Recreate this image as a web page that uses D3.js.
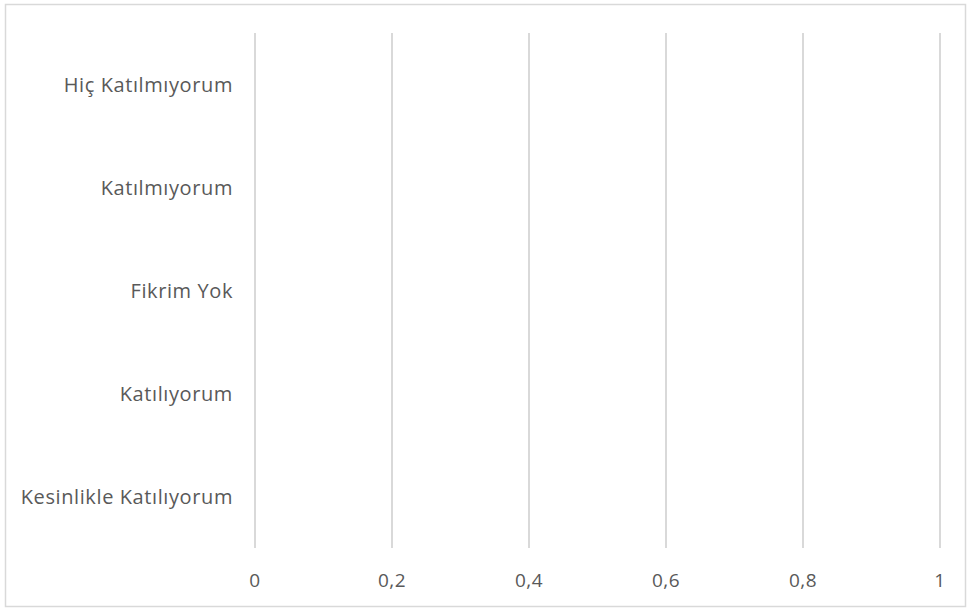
<!DOCTYPE html>
<html><head><meta charset="utf-8">
<script src="https://cdn.jsdelivr.net/npm/d3@7"></script>
<style>body{margin:0;background:#fff}svg{display:block}</style>
</head><body>
<svg id="c" width="967" height="611"></svg>
<script>
const categories = ["Hiç Katılmıyorum","Katılmıyorum","Fikrim Yok","Katılıyorum","Kesinlikle Katılıyorum"];
const values = [0,0,0,0,0];
const xTicks = [0,0.2,0.4,0.6,0.8,1];
const xTickLabels = ["0","0,2","0,4","0,6","0,8","1"];

const svg = d3.select("#c");
svg.append("rect").attr("x",5.5).attr("y",4.5).attr("width",960).attr("height",602)
  .attr("fill","#fff").attr("stroke","#d9d9d9").attr("stroke-width",1.5);

const m = {left:255, right:940, top:33, bottom:548};
const x = d3.scaleLinear().domain([0,1]).range([m.left,m.right]);
const y = d3.scaleBand().domain(categories).range([m.top,m.bottom]).paddingInner(0.3).paddingOuter(0.15);
const font = "'Open Sans', sans-serif";

svg.append("g").selectAll("line").data(xTicks).join("line")
  .attr("x1",d=>x(d)).attr("x2",d=>x(d)).attr("y1",m.top).attr("y2",m.bottom)
  .attr("stroke","#d9d9d9").attr("stroke-width",2);

svg.append("g").selectAll("rect").data(values).join("rect")
  .attr("x",x(0)).attr("y",(d,i)=>y(categories[i])).attr("height",y.bandwidth())
  .attr("width",d=>x(d)-x(0)).attr("fill","#4472c4");

svg.append("g").selectAll("text").data(xTicks).join("text")
  .attr("x",d=>x(d)).attr("y",580).attr("dy","0.35em").attr("text-anchor","middle")
  .attr("font-family",font).attr("font-size",19).attr("letter-spacing",0.4).attr("fill","#595959")
  .text((d,i)=>xTickLabels[i]);

svg.append("g").selectAll("text").data(categories).join("text")
  .attr("x",233).attr("y",d=>y(d)+y.bandwidth()/2).attr("dy","0.35em").attr("text-anchor","end")
  .attr("font-family",font).attr("font-size",20).attr("letter-spacing",0.6).attr("fill","#595959")
  .text(d=>d);
</script>
</body></html>
